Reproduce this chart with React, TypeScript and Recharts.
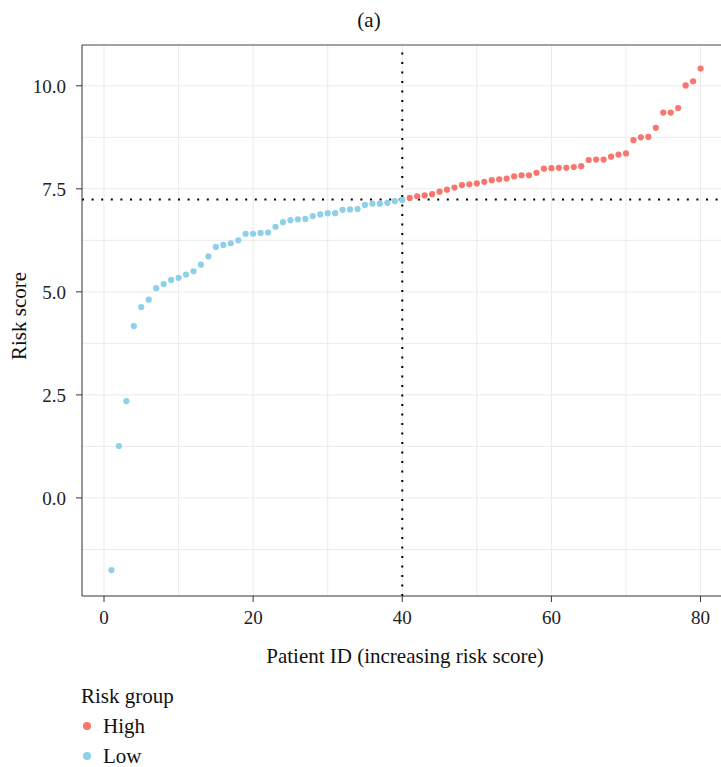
import { ScatterChart, Scatter, XAxis, YAxis, CartesianGrid, ReferenceLine } from "recharts";

// risk score per patient, sorted ascending (patient 1..80)
const riskScores = [
  -1.75, 1.26, 2.35, 4.17, 4.63, 4.81, 5.09, 5.19, 5.29, 5.34,
  5.42, 5.5, 5.66, 5.86, 6.09, 6.14, 6.18, 6.25, 6.41, 6.41,
  6.43, 6.44, 6.58, 6.69, 6.74, 6.76, 6.77, 6.84, 6.88, 6.91,
  6.91, 6.99, 7.0, 7.01, 7.11, 7.14, 7.14, 7.16, 7.2, 7.23,
  7.28, 7.32, 7.34, 7.37, 7.43, 7.48, 7.53, 7.59, 7.61, 7.63,
  7.67, 7.71, 7.73, 7.75, 7.8, 7.83, 7.83, 7.89, 7.99, 8.0,
  8.01, 8.01, 8.03, 8.05, 8.2, 8.21, 8.21, 8.28, 8.33, 8.36,
  8.68, 8.75, 8.76, 8.98, 9.35, 9.35, 9.46, 10.01, 10.11, 10.42,
];
const cutoffScore = 7.24;
const cutoffPatient = 40;

const xDomain = [-2.95, 83.95];
const yDomain = [-2.38, 10.99];
const xTicks = [0, 20, 40, 60, 80];
const yTicks = [0, 2.5, 5, 7.5, 10];
const xGrid = [0, 10, 20, 30, 40, 50, 60, 70, 80];
const yGrid = [-1.25, 0, 1.25, 2.5, 3.75, 5, 6.25, 7.5, 8.75, 10];

const groups = [
  { name: "High", color: "#F8766D" },
  { name: "Low", color: "#8ECFEA" },
];

const points = riskScores.map((score, i) => ({ id: i + 1, score }));
const highPts = points.filter((p) => p.score > cutoffScore);
const lowPts = points.filter((p) => p.score <= cutoffScore);

const FONT = "'Liberation Serif', 'DejaVu Serif', serif";

const dot = (color: string) => (p: any) => <circle cx={p.cx} cy={p.cy} r={3.1} fill={color} />;

export default function App() {
  return (
    <div style={{ position: "relative", width: 721, height: 767, overflow: "hidden", background: "#fff", fontFamily: FONT }}>
      <style>{`body{margin:0}`}</style>
      <div style={{ position: "absolute", left: 369, top: 20, transform: "translate(-50%,-50%)", fontSize: 21, color: "#111" }}>(a)</div>
      <ScatterChart width={730} height={680} margin={{ top: 45, right: 0, bottom: 0, left: 0 }}>
        <CartesianGrid stroke="#EBEBEB" strokeWidth={1} verticalValues={xGrid} horizontalValues={yGrid} />
        <XAxis
          type="number"
          dataKey="id"
          domain={xDomain}
          ticks={xTicks}
          allowDataOverflow
          height={84}
          tickSize={6}
          tickMargin={9}
          tick={{ fill: "#222", fontSize: 19, fontFamily: FONT }}
          stroke="#333"
        />
        <YAxis
          type="number"
          dataKey="score"
          domain={yDomain}
          ticks={yTicks}
          allowDataOverflow
          width={82}
          tickSize={6}
          tickMargin={10}
          tickFormatter={(v) => Number(v).toFixed(1)}
          tick={{ fill: "#222", fontSize: 19, fontFamily: FONT }}
          stroke="#333"
        />
        {/* panel border on top */}
        <ReferenceLine y={yDomain[1]} stroke="#444" strokeWidth={1.2} />
        <ReferenceLine y={cutoffScore} stroke="#000" strokeWidth={2} strokeDasharray="2 7.6" />
        <ReferenceLine x={cutoffPatient} stroke="#000" strokeWidth={2} strokeDasharray="2 7.5" />
        <Scatter name="Low" data={lowPts} shape={dot(groups[1].color)} isAnimationActive={false} />
        <Scatter name="High" data={highPts} shape={dot(groups[0].color)} isAnimationActive={false} />
      </ScatterChart>
      <div style={{ position: "absolute", left: 405, top: 656, transform: "translate(-50%,-50%)", fontSize: 21, color: "#111", whiteSpace: "nowrap" }}>
        Patient ID (increasing risk score)
      </div>
      <div style={{ position: "absolute", left: 19, top: 316, transform: "translate(-50%,-50%) rotate(-90deg)", fontSize: 21, color: "#111", whiteSpace: "nowrap" }}>
        Risk score
      </div>
      <div style={{ position: "absolute", left: 81, top: 681, fontSize: 21, color: "#111", lineHeight: "30px" }}>
        <div>Risk group</div>
        {groups.map((g) => (
          <div key={g.name} style={{ display: "flex", alignItems: "center" }}>
            <span style={{ display: "inline-block", width: 8, height: 8, borderRadius: "50%", background: g.color, marginLeft: 2, marginRight: 12 }} />
            {g.name}
          </div>
        ))}
      </div>
    </div>
  );
}
